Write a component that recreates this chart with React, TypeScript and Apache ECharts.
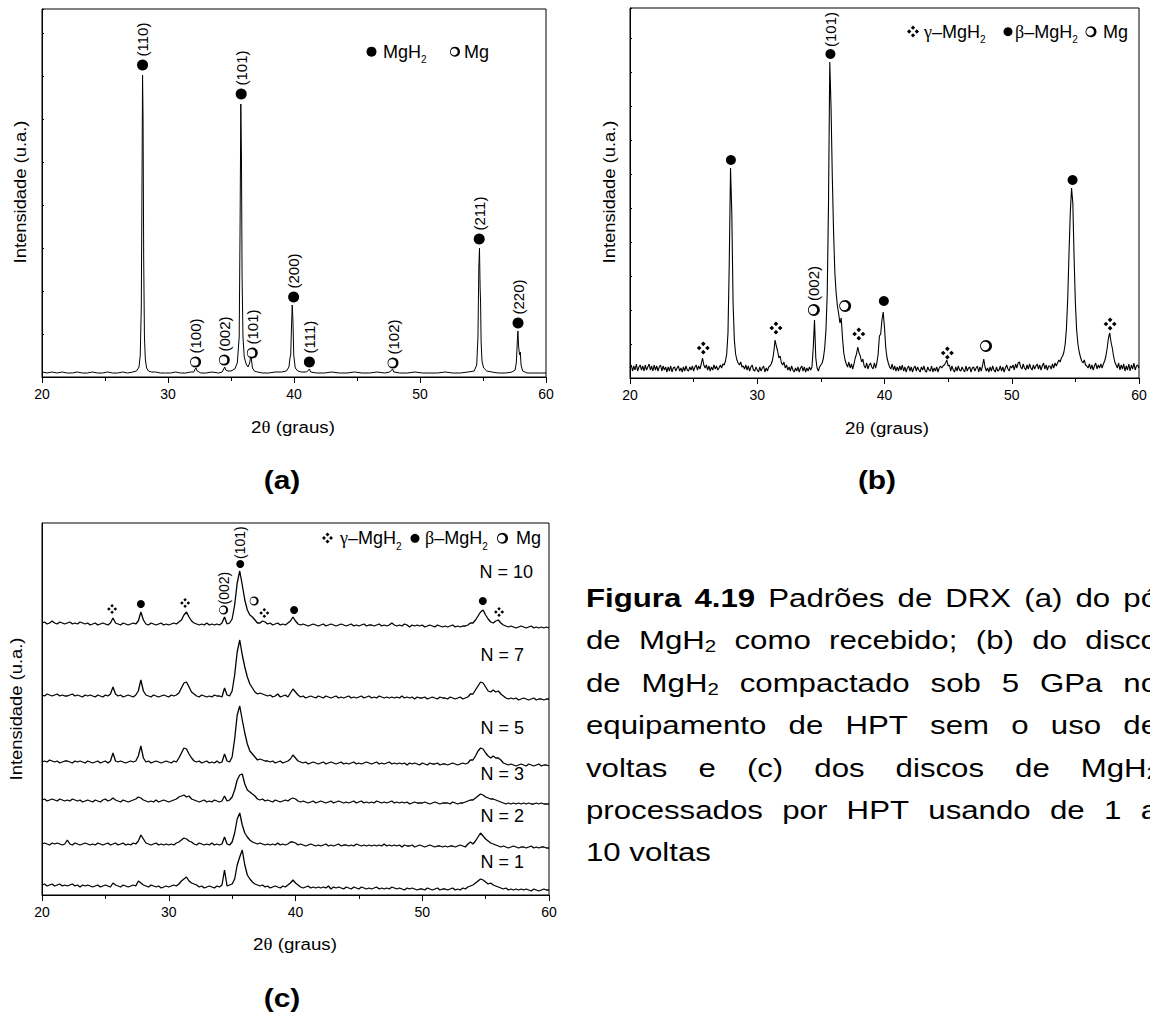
import React, { useEffect, useRef } from "react";
import * as echarts from "echarts";

const FONT = "'Liberation Sans', Arial, sans-serif";
const SERIF = "'Liberation Serif', 'Times New Roman', serif";

// ---------- Panel (a): MgH2 as received, [2θ, intensity] ----------
const A_PATTERN: number[][] = [
  [20.0, 5], [20.4, 4], [20.8, 5], [21.2, 4], [21.6, 5], [22.0, 4], [22.4, 4], [22.8, 5], [23.2, 4], [23.6, 4],
  [24.0, 5], [24.4, 4], [24.8, 4], [25.2, 5], [25.6, 4], [26.0, 4], [26.4, 5], [26.8, 4], [27.2, 5], [27.5, 6],
  [27.7, 10], [27.8, 22], [27.88, 70], [27.94, 200], [27.98, 302], [28.02, 260], [28.07, 120], [28.13, 40], [28.2, 18], [28.3, 9],
  [28.45, 6], [28.7, 5], [29.0, 5], [29.4, 4], [29.8, 4], [30.2, 4], [30.6, 5], [31.0, 4], [31.4, 4], [31.8, 5],
  [32.05, 5], [32.15, 8], [32.22, 9], [32.32, 6], [32.6, 4], [33.0, 4], [33.5, 5], [34.0, 4], [34.3, 5], [34.42, 8],
  [34.5, 10], [34.58, 7], [34.75, 6], [35.0, 6], [35.3, 8], [35.5, 14], [35.65, 40], [35.72, 150], [35.78, 273], [35.83, 220],
  [35.88, 100], [35.95, 40], [36.05, 20], [36.2, 13], [36.35, 10], [36.48, 14], [36.56, 20], [36.62, 18], [36.7, 9], [36.85, 6],
  [37.1, 5], [37.5, 4], [38.0, 4], [38.5, 5], [39.0, 5], [39.4, 6], [39.6, 10], [39.68, 19], [39.74, 22], [39.8, 50],
  [39.86, 72], [39.92, 55], [39.98, 22], [40.1, 9], [40.3, 6], [40.6, 5], [41.0, 5], [41.15, 7], [41.22, 8], [41.32, 5],
  [41.8, 4], [42.4, 4], [43.0, 5], [43.6, 4], [44.2, 4], [44.8, 5], [45.4, 4], [46.0, 4], [46.6, 5], [47.2, 4],
  [47.6, 5], [47.75, 7], [47.82, 8], [47.92, 5], [48.4, 4], [49.0, 4], [49.6, 5], [50.2, 4], [50.8, 4], [51.4, 4],
  [52.0, 5], [52.6, 4], [53.2, 4], [53.8, 5], [54.3, 6], [54.5, 12], [54.6, 40], [54.67, 110], [54.72, 129], [54.77, 90],
  [54.81, 74], [54.85, 35], [54.92, 16], [55.05, 9], [55.3, 6], [55.7, 5], [56.2, 4], [56.8, 4], [57.3, 5], [57.55, 7],
  [57.65, 15], [57.72, 35], [57.77, 46], [57.83, 30], [57.9, 22], [57.96, 25], [58.02, 12], [58.15, 6], [58.5, 4], [59.0, 4],
  [59.5, 4], [60.0, 4],
];
const A_MGH2 = [[27.98, 312], [35.81, 283], [39.97, 80], [41.22, 15], [54.7, 138], [57.78, 54]];
const A_MGH2_HKL = ["(110)", "(101)", "(200)", "(111)", "(211)", "(220)"];
const A_MG = [[32.19, 15], [34.47, 17], [36.69, 24], [47.86, 14]];
const A_MG_HKL = ["(100)", "(002)", "(101)", "(102)"];

// ---------- Panel (b): compacted disc, scan from 20° step 0.1° ----------
const B_START = 20;
const B_STEP = 0.1;
const B_INT = [
  10, 13, 7, 12, 8, 14, 7, 11, 13, 8,
  12, 7, 13, 8, 11, 14, 8, 12, 7, 13,
  8, 12, 7, 11, 13, 7, 12, 8, 11, 6,
  11, 7, 12, 6, 10, 11, 7, 10, 12, 7,
  10, 6, 11, 7, 12, 8, 7, 11, 8, 12,
  7, 11, 13, 8, 12, 9, 14, 20, 13, 10,
  13, 8, 12, 7, 11, 8, 13, 9, 12, 8,
  10, 13, 10, 14, 13, 17, 24, 45, 115, 210,
  165, 75, 38, 24, 18, 15, 13, 16, 11, 12,
  9, 13, 8, 12, 7, 11, 13, 8, 7, 11,
  8, 6, 11, 7, 10, 12, 6, 10, 7, 11,
  12, 14, 18, 26, 38, 32, 27, 20, 22, 15,
  13, 16, 10, 13, 8, 11, 7, 12, 8, 6,
  10, 7, 11, 6, 10, 12, 7, 11, 6, 10,
  7, 11, 8, 11, 30, 58, 20, 10, 7, 11,
  13, 15, 20, 30, 48, 85, 175, 316, 270, 200,
  145, 105, 85, 72, 64, 55, 60, 40, 25, 18,
  14, 11, 16, 10, 14, 9, 14, 20, 24, 31,
  25, 22, 16, 19, 12, 10, 15, 9, 13, 15,
  11, 9, 15, 10, 15, 24, 42, 44, 58, 66,
  50, 30, 20, 15, 11, 9, 14, 8, 12, 7,
  11, 7, 12, 8, 13, 7, 11, 6, 10, 12,
  7, 11, 6, 10, 12, 7, 11, 8, 6, 11,
  8, 12, 7, 6, 11, 8, 7, 12, 6, 10,
  7, 11, 6, 10, 12, 10, 12, 13, 15, 18,
  12, 13, 7, 12, 8, 6, 11, 7, 12, 8,
  7, 11, 8, 6, 12, 7, 10, 11, 6, 10,
  11, 7, 10, 12, 6, 11, 7, 12, 19, 11,
  7, 10, 6, 11, 7, 12, 8, 6, 11, 7,
  8, 12, 7, 11, 6, 10, 13, 9, 7, 12,
  10, 13, 8, 14, 10, 15, 16, 11, 9, 14,
  10, 8, 13, 9, 14, 10, 8, 13, 9, 12,
  14, 9, 13, 8, 12, 15, 9, 13, 8, 12,
  12, 9, 14, 10, 15, 12, 15, 18, 16, 20,
  22, 26, 34, 50, 80, 125, 165, 190, 175, 120,
  75, 48, 34, 26, 21, 17, 15, 18, 13, 12,
  10, 14, 9, 13, 8, 12, 15, 9, 13, 10,
  14, 10, 14, 17, 22, 30, 40, 45, 36, 30,
  22, 16, 13, 10, 15, 8, 13, 9, 14, 7,
  12, 8, 14, 7, 13, 9, 15, 8, 12, 13,
  10,
];
const B_GAMMA = [[25.76, 30], [31.47, 50], [37.98, 44], [44.94, 25], [57.73, 54]];
const B_BETA = [[27.93, 218], [35.75, 324], [39.95, 77], [54.78, 198]];
const B_BETA_HKL = ["", "(101)", "", ""];
const B_MG = [[34.45, 68], [36.91, 72], [47.98, 32]];
const B_MG_HKL = ["(002)", "", ""];

// ---------- Panel (c): HPT discs, scan from 20° step 0.2°, stacked ----------
const C_START = 20;
const C_STEP = 0.2;
const C_NAMES = ["N = 10", "N = 7", "N = 5", "N = 3", "N = 2", "N = 1"];
const C_OFFSET = [270, 198, 132, 93, 50, 8];
const C_N10 = [
  2, 3, 1, 2, 4, 2, 1, 3, 2, 1, 2, 3, 1, 2, 1, 3, 2, 1, 2, 0,
  1, 2, 0, 1, 2, 1, 0, 2, 7, 2, 1, 0, 2, 1, 0, 1, 2, 1, 4, 13,
  5, 1, 0, 2, 1, 0, 1, 2, 0, 1, 0, 1, 2, 1, 3, 5, 10, 13, 8, 4,
  2, 1, 0, 1, 0, 2, 0, 1, 0, 1, 0, 2, 8, 1, 2, 6, 20, 42, 54, 40,
  25, 15, 10, 8, 5, 2, 2, 4, 3, 1, 2, 0, 1, 2, 0, 1, 0, 2, 4, 8,
  4, 1, 0, 1, 0, -1, 0, 1, 0, -1, 0, 1, -1, 0, 1, 0, -1, 0, 1, 0,
  -1, 0, 1, -1, 0, -1, 0, 1, -1, 0, 0, -1, 0, 1, -1, 0, -1, 0, 2, 0,
  -1, 0, -1, 1, 0, -2, 0, -1, 0, -1, 0, -2, -1, 0, -1, -2, 0, -1, -2, -1,
  -2, -1, 0, -2, -1, -2, -1, -1, 0, 2, 2, 5, 9, 13, 15, 10, 6, 3, 2, 4,
  5, 2, 0, -1, -2, -1, -2, -3, -2, -1, -2, -3, -2, -1, -3, -2, -3, -2, -3, -2,
  -3,
];
const C_N7 = [
  2, 1, 3, 2, 1, 2, 3, 1, 2, 1, 1, 2, 3, 1, 2, 1, 0, 2, 1, 2,
  1, 0, 2, 1, 0, 2, 1, 3, 10, 3, 1, 2, 0, 1, 2, 1, 0, 2, 6, 17,
  6, 2, 1, 0, 2, 1, 0, 1, 2, 1, 0, 2, 1, 2, 4, 9, 14, 15, 10, 5,
  3, 1, 0, 2, 1, 0, 1, 0, 2, 1, 1, 0, 9, 2, 1, 6, 22, 45, 57, 42,
  30, 20, 13, 9, 5, 3, 4, 3, 2, 1, 2, 0, 1, 3, 0, 1, 2, 0, 4, 8,
  5, 2, 0, 1, -1, 0, 1, 0, -1, 1, 0, -1, 1, 0, -1, 0, 1, -1, 0, -1,
  0, 1, -1, 0, -1, 0, 1, -1, 0, 1, -1, 0, -1, 1, 0, -1, 0, -1, 0, -1,
  0, -1, 1, -1, 0, -1, 0, -2, 0, -1, -1, 0, -2, -1, 0, -1, -2, 0, -1, -1,
  -2, 0, -1, -2, -1, 0, -2, -1, 0, 3, 3, 7, 11, 15, 14, 10, 6, 5, 7, 5,
  6, 3, 1, -1, -2, -1, -2, -1, -3, -2, -1, -2, -3, -2, -1, -3, -2, -2, -3, -2,
  -2,
];
const C_N5 = [
  1, 2, 1, 3, 2, 1, 2, 0, 1, 2, 2, 1, 0, 2, 1, 2, 1, 0, 2, 1,
  0, 1, 2, 0, 1, 2, 0, 2, 10, 2, 1, 2, 1, 0, 1, 2, 1, 2, 7, 17,
  5, 1, 2, 0, 1, 2, 1, 0, 1, 2, 1, 0, 2, 1, 5, 10, 15, 14, 9, 5,
  2, 1, 2, 0, 1, 2, 0, 1, 0, 2, 0, 1, 9, 2, 1, 6, 24, 48, 57, 43,
  30, 19, 12, 9, 6, 3, 4, 3, 2, 2, 1, 2, 0, 1, 2, 0, 1, 2, 4, 8,
  5, 2, 1, 0, 1, -1, 0, 1, 0, -1, 0, 1, -1, 0, 1, 0, -1, 0, 1, -1,
  0, -1, 0, 1, -1, 0, -1, 0, 1, 0, -1, 0, 1, -1, 0, -1, 0, 1, -1, 0,
  -1, 0, -1, 0, -2, 0, -1, 0, -1, -2, 0, -1, -2, 0, -1, -1, 0, -2, -1, -1,
  -2, -1, 0, -1, -2, -1, 0, -1, 0, 3, 3, 7, 12, 15, 14, 10, 7, 5, 7, 5,
  5, 3, 0, -1, -2, -1, -2, -3, -2, -1, -2, -3, -1, -2, -3, -2, -1, -3, -2, -2,
  -3,
];
const C_N3 = [
  2, 3, 1, 2, 3, 2, 1, 3, 2, 1, 2, 1, 3, 2, 1, 2, 0, 1, 2, 1,
  0, 2, 1, 0, 2, 3, 1, 2, 4, 2, 1, 0, 2, 1, 0, 1, 2, 3, 5, 4,
  2, 1, 0, 1, 0, 2, 0, 1, 2, 1, 0, 1, 2, 3, 5, 6, 7, 5, 6, 3,
  2, 1, 0, 1, 2, 0, 1, 0, 2, 1, 0, 1, 6, 1, 2, 5, 12, 22, 27, 28,
  18, 12, 10, 8, 6, 3, 2, 3, 1, 2, 1, 0, 2, 1, 0, 1, 2, 1, 3, 4,
  3, 1, 0, 1, 0, -1, 0, 1, -1, 0, 1, 0, -1, 0, 1, -1, 0, 1, 0, -1,
  0, -1, 0, 1, -1, 0, 1, -1, 0, -1, 0, -1, 1, 0, -1, 0, -1, 0, 1, -1,
  0, -1, 0, -1, 0, -2, -1, 0, -1, -1, -1, 0, -1, -2, -1, 0, -1, -2, -1, -1,
  -1, -2, 0, -1, -2, -1, -1, 0, 1, 2, 2, 4, 6, 8, 7, 5, 4, 3, 3, 2,
  1, 0, -1, -2, -1, -2, -1, -2, -1, -2, -1, -2, -1, -2, -2, -1, -2, -1, -2, -2,
  -2,
];
const C_N2 = [
  1, 2, 1, 0, 2, 1, 2, 1, 0, 1, 5, 1, 0, 2, 1, 0, 1, 2, 1, 0,
  1, 0, 2, 1, 0, 1, 2, 0, 1, 2, 0, 1, 2, 0, 1, 0, 2, 1, 4, 10,
  6, 2, 1, 0, 1, 2, 0, 1, 0, 1, 0, 1, 0, 2, 3, 5, 7, 6, 4, 3,
  1, 0, 2, 1, 0, 1, 0, 2, 0, 1, 0, 1, 8, 1, 0, 3, 12, 26, 32, 20,
  12, 8, 5, 3, 2, 1, 2, 1, 0, 1, 0, 1, 0, 2, 0, 1, 0, 1, 3, 3,
  2, 0, 1, 0, -1, 0, 1, 0, -1, 0, -1, 0, 1, -1, 0, -1, 0, 1, -1, 0,
  0, -1, 0, -1, 1, 0, -1, 0, -1, 0, -1, 0, -1, 0, -1, 1, -1, 0, -1, 0,
  -1, 0, -2, 0, -1, -1, 0, -2, -1, 0, -1, -2, -1, 0, -1, -2, -1, -1, -2, -1,
  -2, -1, -1, -2, -1, 0, -1, -2, 1, 3, 1, 4, 8, 12, 9, 6, 4, 2, 1, 0,
  -1, -2, -1, -2, -3, -2, -1, -2, -3, -2, -2, -3, -2, -1, -3, -2, -3, -2, -2, -3,
  -3,
];
const C_N1 = [
  2, 3, 1, 2, 3, 1, 2, 3, 1, 2, 1, 2, 3, 1, 2, 0, 2, 1, 2, 1,
  0, 1, 2, 0, 1, 2, 1, 0, 4, 2, 1, 0, 2, 1, 0, 1, 2, 1, 6, 4,
  2, 1, 0, 2, 1, 0, 1, -1, 0, 1, 0, 1, 2, 1, 3, 6, 8, 10, 6, 4,
  3, 2, 0, 1, -1, 0, 1, 0, -1, 1, 0, 2, 17, 1, 2, 3, 8, 22, 30, 37,
  22, 12, 8, 5, 3, 2, 1, 2, 0, 1, -1, 0, 1, 0, -1, 1, 0, 2, 4, 7,
  4, 2, 0, -1, 0, 1, -1, 0, -1, 0, -1, 0, -1, 1, -2, 0, -1, 0, -1, -2,
  0, -1, -2, 0, -1, -2, 0, -1, -2, -1, -2, -1, 0, -2, -1, -2, -1, -2, 0, -1,
  -2, -1, -2, -3, -1, -2, -1, -2, -3, -2, -2, -3, -1, -2, -3, -2, -1, -3, -2, -2,
  -3, -2, -1, -3, -2, -3, -1, -2, 0, 1, 2, 4, 6, 8, 7, 5, 3, 4, 2, 1,
  0, -1, -2, -1, -3, -2, -3, -2, -3, -2, -3, -2, -3, -4, -2, -3, -4, -3, -2, -3,
  -3,
];
const C_TRACES = [C_N10, C_N7, C_N5, C_N3, C_N2, C_N1];
const C_GAMMA = [[25.53, 286], [31.29, 292], [37.54, 282], [56.06, 283]];
const C_BETA = [[27.8, 291], [35.64, 331], [39.89, 285], [54.78, 294]];
const C_BETA_HKL = ["", "(101)", "", ""];
const C_MG = [[34.33, 285], [36.74, 294]];
const C_MG_HKL = ["(002)", ""];

const CAPTION_LINES = [
  ["*Figura", "*4.19", "Padrões", "de", "DRX", "(a)", "do", "pó"],
  ["de", "MgH_2", "como", "recebido;", "(b)", "do", "disco"],
  ["de", "MgH_2", "compactado", "sob", "5", "GPa", "no"],
  ["equipamento", "de", "HPT", "sem", "o", "uso", "de"],
  ["voltas", "e", "(c)", "dos", "discos", "de", "MgH_2"],
  ["processados", "por", "HPT", "usando", "de", "1", "a"],
  ["10", "voltas"],
];

// ---------- symbols ----------
const MG_PATH =
  "path://M20,10A10,10,0,1,0,0,10A10,10,0,1,0,20,10ZM15.4,10A7,7,0,1,1,1.4,10A7,7,0,1,1,15.4,10Z";
const GAMMA_PATH =
  "path://M10,0L13.6,3.6L10,7.2L6.4,3.6ZM20,10L16.4,13.6L12.8,10L16.4,6.4ZM10,20L6.4,16.4L10,12.8L13.6,16.4ZM0,10L3.6,6.4L7.2,10L3.6,13.6Z";

let _ctx: CanvasRenderingContext2D | null = null;
function mw(t: string, size: number, family = FONT, weight = "normal") {
  if (!_ctx) _ctx = document.createElement("canvas").getContext("2d");
  _ctx!.font = `${weight} ${size}px ${family}`;
  return _ctx!.measureText(t).width;
}

function txt(x: number, y: number, text: string, o: any = {}) {
  const align = o.align ?? "left";
  const va = o.va ?? "middle";
  return {
    type: "text",
    x,
    y,
    scaleX: o.sx ?? 1,
    rotation: o.rot ?? 0,
    silent: true,
    z: 100,
    style: {
      text,
      fill: "#000",
      fontSize: o.size ?? 14,
      fontFamily: o.family ?? FONT,
      fontWeight: o.weight ?? "normal",
      align,
      verticalAlign: va,
      textAlign: align,
      textVerticalAlign: va,
    },
  };
}

function run(x0: number, y: number, pieces: any[], sx = 1) {
  let x = x0;
  const els: any[] = [];
  for (const p of pieces) {
    els.push(txt(x, y + (p.dy || 0), p.t, { size: p.size, family: p.family, weight: p.weight, sx }));
    x += mw(p.t, p.size, p.family || FONT, p.weight || "normal") * sx;
  }
  return { els, end: x };
}

function centeredRun(cx: number, y: number, pieces: any[], sx = 1) {
  let w = 0;
  for (const p of pieces) w += mw(p.t, p.size, p.family || FONT, p.weight || "normal") * sx;
  return run(cx - w / 2, y, pieces, sx).els;
}

function dot(cx: number, cy: number, r: number) {
  return { type: "circle", silent: true, z: 100, shape: { cx, cy, r }, style: { fill: "#000" } };
}
function mgGlyph(cx: number, cy: number, r: number) {
  return [
    { type: "circle", silent: true, z: 100, shape: { cx, cy, r }, style: { fill: "#000" } },
    { type: "circle", silent: true, z: 101, shape: { cx: cx - r * 0.16, cy, r: r * 0.7 }, style: { fill: "#fff" } },
  ];
}
function gammaGlyph(cx: number, cy: number, s: number) {
  const d = s * 0.18;
  const o = s * 0.32;
  const centers = [[cx, cy - o], [cx + o, cy], [cx, cy + o], [cx - o, cy]];
  return centers.map(([x, y]) => ({
    type: "polygon",
    silent: true,
    z: 100,
    shape: { points: [[x, y - d], [x + d, y], [x, y + d], [x - d, y]] },
    style: { fill: "#000" },
  }));
}
function phaseLabel(x: number, y: number, greek: string, size: number) {
  return run(x, y, [
    { t: greek, size, family: SERIF },
    { t: "–MgH", size },
    { t: "2", size: 10, dy: 8 },
  ]).els;
}

const CAP_X = 586;
const CAP_R = 1158;
const CAP_Y0 = 598;
const CAP_DY = 42.4;
const CAP_SIZE = 26;
const CAP_SUB = 17;
const CAP_SX = 1.2;

function captionEls() {
  const els: any[] = [];
  CAPTION_LINES.forEach((words, li) => {
    const y = CAP_Y0 + li * CAP_DY;
    const parsed = words.map((w) => {
      const bold = w.startsWith("*");
      let t = bold ? w.slice(1) : w;
      let sub: string | null = null;
      if (t.endsWith("_2")) {
        t = t.slice(0, -2);
        sub = "2";
      }
      const weight = bold ? "bold" : "normal";
      const wMain = mw(t, CAP_SIZE, FONT, weight) * CAP_SX;
      const wSub = sub ? mw(sub, CAP_SUB) * CAP_SX : 0;
      return { t, sub, weight, wMain, w: wMain + wSub };
    });
    const total = parsed.reduce((s, p) => s + p.w, 0);
    const last = li === CAPTION_LINES.length - 1;
    const gap = last ? mw(" ", CAP_SIZE) * CAP_SX : (CAP_R - CAP_X - total) / (parsed.length - 1);
    let x = CAP_X;
    parsed.forEach((p) => {
      els.push(txt(x, y, p.t, { size: CAP_SIZE, weight: p.weight, sx: CAP_SX }));
      if (p.sub) els.push(txt(x + p.wMain, y + 6, p.sub, { size: CAP_SUB, sx: CAP_SX }));
      x += p.w + gap;
    });
  });
  return els;
}

function xAxis(gi: number) {
  return {
    type: "value",
    gridIndex: gi,
    min: 20,
    max: 60,
    interval: 10,
    axisLine: { show: true, onZero: false, lineStyle: { color: "#000", width: 1 } },
    axisTick: { show: true, inside: false, length: 6, lineStyle: { color: "#000" } },
    minorTick: { show: true, splitNumber: 2, length: 4, lineStyle: { color: "#000" } },
    axisLabel: { fontSize: 14, color: "#000", fontFamily: FONT, margin: 10 },
    splitLine: { show: false },
    minorSplitLine: { show: false },
  };
}
function yAxis(gi: number, max: number, interval: number, ticks: boolean) {
  return {
    type: "value",
    gridIndex: gi,
    min: 0,
    max,
    interval,
    axisLine: { show: true, onZero: false, lineStyle: { color: "#000", width: 1 } },
    axisTick: { show: ticks, inside: true, length: 2, lineStyle: { color: "#000" } },
    axisLabel: { show: false },
    splitLine: { show: false },
  };
}
function lineSeries(data: number[][], idx: number, width = 1) {
  return {
    type: "line",
    xAxisIndex: idx,
    yAxisIndex: idx,
    data,
    showSymbol: false,
    symbol: "none",
    silent: true,
    z: 2,
    lineStyle: { color: "#000", width },
  };
}
function markSeries(pts: number[][], hkl: string[] | null, idx: number, symbol: string, size: number, labelSize: number, dist: number) {
  return {
    type: "scatter",
    xAxisIndex: idx,
    yAxisIndex: idx,
    symbol,
    symbolSize: size,
    silent: true,
    z: 5,
    itemStyle: { color: "#000", opacity: 1 },
    label: {
      position: "top",
      rotate: 90,
      align: "left",
      verticalAlign: "middle",
      distance: dist,
      fontSize: labelSize,
      fontFamily: FONT,
      color: "#000",
    },
    data: pts.map((p, i) => ({
      value: p,
      label: hkl && hkl[i] ? { show: true, formatter: hkl[i] } : { show: false },
    })),
  };
}

function buildOption() {
  const gridBase = { show: true, borderColor: "#000", borderWidth: 1, backgroundColor: "transparent", containLabel: false, outerBoundsMode: "none" };
  const bData = B_INT.map((v, i) => [B_START + i * B_STEP, v]);
  const cSeries = C_TRACES.map((arr, k) =>
    lineSeries(arr.map((v, i) => [C_START + i * C_STEP, v + C_OFFSET[k]]), 2, 1.3)
  );

  const graphics: any[] = [];
  // axis titles
  graphics.push(txt(20, 192, "Intensidade (u.a.)", { size: 17, rot: Math.PI / 2, align: "center", sx: 1.08 }));
  graphics.push(txt(609, 192, "Intensidade (u.a.)", { size: 17, rot: Math.PI / 2, align: "center", sx: 1.08 }));
  graphics.push(txt(16, 709, "Intensidade (u.a.)", { size: 17, rot: Math.PI / 2, align: "center", sx: 1.08 }));
  const xt = [
    { t: "2", size: 17 },
    { t: "θ", size: 17, family: SERIF },
    { t: " (graus)", size: 17 },
  ];
  graphics.push(...centeredRun(293, 427, xt, 1.1));
  graphics.push(...centeredRun(887, 428, xt, 1.1));
  graphics.push(...centeredRun(295, 944, xt, 1.1));
  // panel letters
  graphics.push(...centeredRun(282, 480, [{ t: "(a)", size: 26, weight: "bold" }], 1.15));
  graphics.push(...centeredRun(877, 480, [{ t: "(b)", size: 26, weight: "bold" }], 1.15));
  graphics.push(...centeredRun(282, 998, [{ t: "(c)", size: 26, weight: "bold" }], 1.15));

  // legend (a)
  graphics.push(dot(371.5, 51.7, 5));
  graphics.push(...run(383, 51.7, [{ t: "MgH", size: 18 }, { t: "2", size: 10, dy: 8 }]).els);
  graphics.push(...mgGlyph(455, 51.7, 5));
  graphics.push(...run(464, 51.7, [{ t: "Mg", size: 18 }]).els);

  // legend (b)
  graphics.push(...gammaGlyph(913, 31.5, 12));
  graphics.push(...phaseLabel(924, 31.7, "γ", 18));
  graphics.push(dot(1008, 31.7, 4.5));
  graphics.push(...phaseLabel(1015, 31.7, "β", 18));
  graphics.push(...mgGlyph(1091, 31.7, 5.5));
  graphics.push(...run(1103, 31.7, [{ t: "Mg", size: 18 }]).els);

  // legend (c)
  graphics.push(...gammaGlyph(327.5, 538, 11));
  graphics.push(...phaseLabel(340, 538.3, "γ", 18));
  graphics.push(dot(415, 538.3, 4.5));
  graphics.push(...phaseLabel(425, 538.3, "β", 18));
  graphics.push(...mgGlyph(502.5, 538.3, 5.5));
  graphics.push(...run(516, 538.3, [{ t: "Mg", size: 18 }]).els);

  // N labels (c)
  const nPos = [[533, 571.7], [524, 655], [524, 728.3], [524, 774], [524, 816], [524, 861.7]];
  C_NAMES.forEach((n, i) => graphics.push(txt(nPos[i][0], nPos[i][1], n, { size: 18, align: "right" })));

  graphics.push(...captionEls());

  return {
    animation: false,
    backgroundColor: "#fff",
    grid: [
      { ...gridBase, left: 42, top: 9, width: 504, height: 368 },
      { ...gridBase, left: 630, top: 8, width: 509, height: 370 },
      { ...gridBase, left: 42, top: 523, width: 507, height: 372 },
    ],
    xAxis: [xAxis(0), xAxis(1), xAxis(2)],
    yAxis: [yAxis(0, 368, 43, true), yAxis(1, 370, 34, true), yAxis(2, 372, 62, false)],
    series: [
      lineSeries(A_PATTERN, 0, 1),
      markSeries(A_MGH2, A_MGH2_HKL, 0, "circle", 11, 15, 3),
      markSeries(A_MG, A_MG_HKL, 0, MG_PATH, 11, 15, 3),
      lineSeries(bData, 1, 1.1),
      markSeries(B_GAMMA, null, 1, GAMMA_PATH, 13, 15, 3),
      markSeries(B_BETA, B_BETA_HKL, 1, "circle", 10, 15, 2),
      markSeries(B_MG, B_MG_HKL, 1, MG_PATH, 12, 15, 3),
      ...cSeries,
      markSeries(C_GAMMA, null, 2, GAMMA_PATH, 10, 14, 1),
      markSeries(C_BETA, C_BETA_HKL, 2, "circle", 8, 14, 1),
      markSeries(C_MG, C_MG_HKL, 2, MG_PATH, 9, 14, 1),
    ],
    graphic: { elements: graphics },
  };
}

export default function App() {
  const ref = useRef<HTMLDivElement>(null);
  useEffect(() => {
    const chart = echarts.init(ref.current!, null, { renderer: "svg" });
    chart.setOption(buildOption() as any);
    return () => chart.dispose();
  }, []);
  return (
    <div
      ref={ref}
      style={{ position: "absolute", left: 0, top: 0, width: 1150, height: 1016, background: "#fff" }}
    />
  );
}
